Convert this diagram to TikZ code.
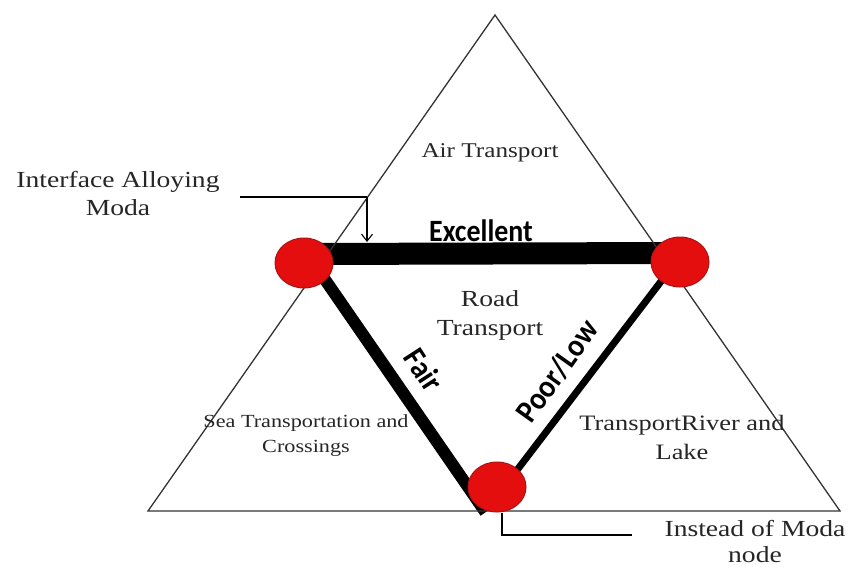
\documentclass[tikz,border=0pt]{standalone}
\usepackage{fontspec}
\setmainfont{Liberation Serif}
\newfontfamily\wideserif[FakeStretch=1.2]{Liberation Serif}
\newfontfamily\calibn[FakeStretch=0.9]{Carlito}
\usetikzlibrary{shapes.geometric,arrows.meta,calc}
\pgfdeclarelayer{canvas}
\pgfdeclarelayer{background}
\pgfsetlayers{canvas,background,main}
\definecolor{nodered}{RGB}{228,14,14}
\definecolor{nodeedge}{RGB}{170,20,20}
\begin{document}
\begin{tikzpicture}[x=1pt,y=-1pt,
  tri/.style={draw=black!80, line width=1.3pt, line join=miter},
  mode/.style={ellipse, fill=nodered, draw=nodeedge, line width=1pt, minimum width=58pt, minimum height=50pt, inner sep=0pt},
  txt/.style={align=center, text=black!85, inner sep=0pt},
  bold/.style={text=black, inner sep=0pt, font=\calibn\bfseries\fontsize{#1}{34}\selectfont},
  lead/.style={draw=black, line width=1.1pt},
  bar/.style={draw=black, line cap=butt}]
\useasboundingbox (0,0) rectangle (853,567);
\begin{pgfonlayer}{canvas}
  \fill[white] (0,0) rectangle (853,567);
\end{pgfonlayer}
% outer triangle
\coordinate (apex) at (495,15);
\coordinate (bl) at (148,511);
\coordinate (br) at (840,511);
\draw[tri] (bl) -- (apex) -- (br) -- cycle;
% mode nodes
\node[mode] (L) at (304,263) {};
\node[mode] (R) at (680,262) {};
\node[mode] (B) at (497,487) {};
% connectors behind nodes
\begin{pgfonlayer}{background}
  \draw[bar, line width=22pt] ([yshift=9pt]L.center) -- ([yshift=9pt]R.center);
  \draw[bar, line width=12pt, shorten >=-3pt] ($(L.center)!0.6!(L.-28)$) -- (B.-120);
  \draw[bar, line width=7pt] ($(B.center)!0.6!(B.33)$) -- ($(R.center)!0.6!(R.-139)$);
\end{pgfonlayer}
% texts
\node[txt, font=\wideserif\fontsize{21}{28}\selectfont] (air) at (490,153) {Air Transport};
\node[txt, font=\wideserif\fontsize{23}{28}\selectfont] (IA) at (118,194) {Interface Alloying\\Moda};
\node[bold=31, anchor=base] (exc) at (481,241) {Excellent};
\node[txt, font=\wideserif\fontsize{23}{29}\selectfont] (road) at (490,315) {Road\\Transport};
\node[bold=32, rotate=-57] (fair) at (424,370) {Fair};
\node[bold=32, rotate=54.5] (poor) at (557,371) {Poor/Low};
\node[txt, font=\wideserif\fontsize{18.5}{25}\selectfont] (sea) at (306,436) {Sea Transportation and\\Crossings};
\node[txt, font=\wideserif\fontsize{22}{29}\selectfont] (river) at (682,437) {TransportRiver and\\Lake};
\node[txt, font=\wideserif\fontsize{23}{26}\selectfont] (IM) at (755,542) {Instead of Moda\\node};
% leaders
\coordinate (ia1) at (240,197);
\coordinate (ia2) at (367,197);
\coordinate (ia3) at (367,242);
\draw[lead] (ia1) -- (ia2);
\draw[lead, -{Straight Barb[length=7pt,width=11pt]}] (ia2) -- (ia3);
\coordinate (im1) at (632,535);
\draw[lead] ([xshift=5pt]B.south) |- (im1);
\end{tikzpicture}
\end{document}
